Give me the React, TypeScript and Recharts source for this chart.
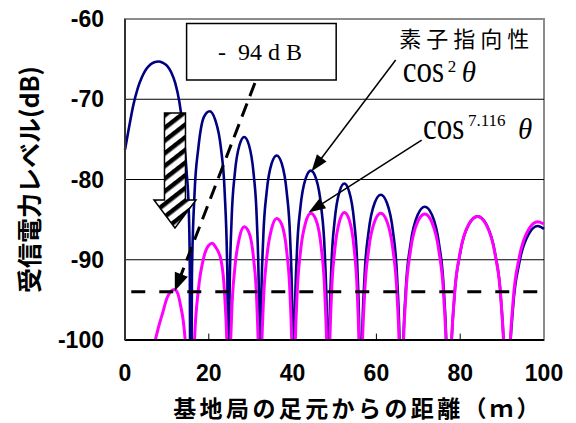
import React from 'react';
import { LineChart, Line, XAxis, YAxis, ReferenceLine, ReferenceArea, ReferenceDot } from 'recharts';

// cos^2 element directivity (navy)
const navyDistance = [
  0, 1, 2, 3, 4, 5, 6, 7, 8, 9, 10, 11, 12, 13, 14, 14.7, 15.2, 15.45, 15.7,
  15.97, 16.6, 17.5, 18.85, 20.2, 21.55, 22.9, 23.8, 24.43, 24.7,
  24.93, 25.45, 26.2, 27.33, 28.45, 29.58, 30.7, 31.45, 31.98, 32.2,
  32.44, 33.0, 33.8, 35.0, 36.2, 37.4, 38.6, 39.4, 39.96, 40.2,
  40.45, 41.03, 41.86, 43.11, 44.35, 45.6, 46.84, 47.67, 48.25, 48.5,
  48.73, 49.27, 50.04, 51.2, 52.35, 53.5, 54.66, 55.43, 55.97, 56.2,
  56.49, 57.17, 58.14, 59.6, 61.05, 62.5, 63.96, 64.93, 65.61, 65.9,
  66.24, 67.03, 68.16, 69.86, 71.55, 73.25, 74.94, 76.07, 76.86, 77.2,
  77.62, 78.59, 79.98, 82.07, 84.15, 86.24, 88.32, 89.71, 90.68, 91.1,
  91.55, 92.6, 94.1, 96.35, 98.5, 100,
];
const navyLevel = [
  -76.3, -73.4, -70.7, -68.7, -67.3, -66.3, -65.7, -65.4, -65.3, -65.45, -65.8, -66.6, -68.0, -70.4, -74.4, -79.0, -83.5, -90, -130,
  -92.0, -81.7, -76.1, -72.2, -71.5, -72.6, -76.1, -81.7, -92.0, -130,
  -95.2, -84.9, -79.3, -75.7, -74.7, -75.7, -79.3, -84.9, -95.2, -130,
  -97.5, -87.2, -81.6, -78.0, -77.0, -78.0, -81.6, -87.2, -97.5, -130,
  -99.4, -89.1, -83.5, -79.9, -78.9, -79.9, -83.5, -89.1, -99.4, -130,
  -101.0, -90.7, -85.1, -81.5, -80.5, -81.5, -85.1, -90.7, -101.0, -130,
  -102.4, -92.1, -86.5, -82.9, -81.9, -82.9, -86.5, -92.1, -102.4, -130,
  -103.9, -93.6, -88.0, -84.4, -83.4, -84.4, -88.0, -93.6, -103.9, -130,
  -105.1, -94.8, -89.2, -85.6, -84.6, -85.6, -89.2, -94.8, -105.1, -130,
  -106.3, -96.0, -90.4, -86.8, -85.8, -86.15,
];

// cos^7.116 element directivity (magenta)
const magentaDistance = [
  0, 3, 5, 6, 7, 8, 9, 10, 11, 11.8, 12.6, 13.3, 13.9, 14.3, 14.8, 15.3, 15.7,
  15.97, 16.6, 17.5, 18.85, 20.0, 20.8, 21.6, 22.9, 23.8, 24.43, 24.7,
  24.93, 25.45, 26.2, 27.33, 28.45, 29.58, 30.7, 31.45, 31.98, 32.2,
  32.44, 33.0, 33.8, 35.0, 36.2, 37.4, 38.6, 39.4, 39.96, 40.2,
  40.45, 41.03, 41.86, 43.11, 44.35, 45.6, 46.84, 47.67, 48.25, 48.5,
  48.73, 49.27, 50.04, 51.2, 52.35, 53.5, 54.66, 55.43, 55.97, 56.2,
  56.49, 57.17, 58.14, 59.6, 61.05, 62.5, 63.96, 64.93, 65.61, 65.9,
  66.24, 67.03, 68.16, 69.86, 71.55, 73.25, 74.94, 76.07, 76.86, 77.2,
  77.62, 78.59, 79.98, 82.07, 84.15, 86.24, 88.32, 89.71, 90.68, 91.1,
  91.55, 92.6, 94.1, 96.35, 98.5, 100,
];
const magentaLevel = [
  -125, -115, -108, -104, -100.6, -98.4, -96.6, -94.8, -93.9, -93.7, -94.2, -95.8, -97.6, -99.6, -103.5, -110, -130,
  -110.5, -99.9, -93.8, -89.6, -88.2, -87.95, -88.4, -90.0, -94.5, -103.0, -130,
  -107.3, -96.9, -91.1, -87.2, -85.9, -86.6, -89.9, -95.3, -105.5, -130,
  -106.1, -95.7, -89.9, -86.1, -84.85, -85.6, -89.0, -94.5, -104.7, -130,
  -105.2, -94.8, -89.1, -85.35, -84.2, -85.05, -88.5, -94.0, -104.2, -130,
  -104.8, -94.5, -88.9, -85.2, -84.1, -85.0, -88.5, -94.1, -104.4, -130,
  -104.7, -94.4, -88.8, -85.2, -84.2, -85.2, -88.8, -94.4, -104.7, -130,
  -104.7, -94.4, -88.8, -85.25, -84.3, -85.35, -89.0, -94.6, -104.9, -130,
  -105.0, -94.7, -89.1, -85.55, -84.6, -85.65, -89.3, -94.9, -105.2, -130,
  -105.5, -95.3, -89.7, -86.2, -85.25, -85.55,
];

const xTicks = [0, 20, 40, 60, 80, 100];
const yTicks = [-100, -90, -80, -70, -60];
const gridLevels = [-70, -80, -90];
const innerTicks = [20, 40, 60, 80];
const thresholdLevel = -94;
const thresholdFrom = 1.5;
const thresholdTo = 98.6;

const xTitle = '基地局の足元からの距離（ｍ）';
const yTitle = '受信電力レベル(dB)';
const boxText = '-  94 d B';
const elementTitle = '素子指向性';

const navyData = navyDistance.map((x, i) => ({ x, y: navyLevel[i] }));
const magentaData = magentaDistance.map((x, i) => ({ x, y: magentaLevel[i] }));

const SANS = "'Liberation Sans', Arial, sans-serif";
const SERIF = "'Liberation Serif', 'Times New Roman', serif";
const CJK = "'Noto Sans CJK JP', sans-serif";

const makeArrow = (width: number, headLen: number, headW: number, dash?: string) => (props: any) => {
  const { x1, y1, x2, y2 } = props;
  const dx = x2 - x1;
  const dy = y2 - y1;
  const len = Math.hypot(dx, dy) || 1;
  const ux = dx / len;
  const uy = dy / len;
  const bx = x2 - ux * headLen;
  const by = y2 - uy * headLen;
  const px = (-uy * headW) / 2;
  const py = (ux * headW) / 2;
  return (
    <g>
      <line x1={x1} y1={y1} x2={bx + ux * 2} y2={by + uy * 2} stroke="#000" strokeWidth={width} strokeDasharray={dash} />
      <polygon points={`${x2},${y2} ${bx + px},${by + py} ${bx - px},${by - py}`} fill="#000" />
    </g>
  );
};

const HatchedArrow = (props: any) => {
  const { cx, cy } = props;
  const pts = [
    [-10.5, -115], [10.5, -115], [10.5, -28], [21, -28], [0, 0], [-21, -28], [-10.5, -28],
  ].map(([a, b]) => `${cx + a},${cy + b}`).join(' ');
  return (
    <g>
      <defs>
        <pattern id="hatch" patternUnits="userSpaceOnUse" width="10" height="10" patternTransform="rotate(-38)">
          <rect width="10" height="10" fill="#fff" />
          <rect y="0" width="10" height="4.5" fill="#000" />
        </pattern>
      </defs>
      <polygon points={pts} fill="url(#hatch)" stroke="#000" strokeWidth={1.5} />
    </g>
  );
};

const TextAt = (content: (cx: number, cy: number) => React.ReactNode) => (props: any) => (
  <g>{content(props.cx, props.cy)}</g>
);

const CosLabel = (cx: number, cy: number, power: string, supGap: number, thetaGap: number, supRise: number) => (
  <g>
    <text transform={`translate(${cx} ${cy}) scale(1 1.2)`} x={0} y={0} fontFamily={SERIF} fontSize={31} fill="#000">cos</text>
    <text x={cx + 41 + supGap} y={cy - supRise} fontFamily={SERIF} fontSize={17} fill="#000">{power}</text>
    <text x={cx + 41 + supGap + thetaGap} y={cy} fontFamily={SERIF} fontSize={29} fontStyle="italic" fill="#000">θ</text>
  </g>
);

const YTitle = (props: any) => {
  const vb = props.viewBox || { x: 0, y: 19, width: 125, height: 321 };
  const cx = vb.x + 28;
  const cy = vb.y + vb.height / 2;
  return (
    <text x={cx} y={cy} transform={`rotate(-90 ${cx} ${cy})`} textAnchor="middle" dominantBaseline="central"
      fontFamily={CJK} fontWeight={700} fontSize={25} fill="#000">{yTitle}</text>
  );
};

const XTitle = (props: any) => {
  const vb = props.viewBox || { x: 125, y: 340, width: 419, height: 83 };
  return (
    <text x={vb.x + 233} y={vb.y + 67} textAnchor="middle" dominantBaseline="central"
      fontFamily={CJK} fontWeight={700} fontSize={23} letterSpacing={3.4} fill="#000">{xTitle}</text>
  );
};

export default function App() {
  return (
    <div style={{ position: 'absolute', left: 0, top: 0, width: 576, height: 423, background: '#fff' }}>
      <LineChart width={576} height={423} margin={{ top: 19, right: 32, bottom: 0, left: 0 }}>
        <XAxis type="number" dataKey="x" domain={[0, 100]} ticks={xTicks} interval={0}
          tickSize={0} tickMargin={25} axisLine={{ stroke: '#000', strokeWidth: 2 }}
          tick={{ fill: '#000', fontSize: 23, fontWeight: 700, fontFamily: SANS }}
          height={83} label={XTitle} />
        <YAxis type="number" dataKey="y" domain={[-100, -60]} ticks={yTicks} interval={0} allowDataOverflow
          tickSize={0} tickMargin={21} axisLine={{ stroke: '#333', strokeWidth: 2 }}
          tick={{ fill: '#000', fontSize: 23, fontWeight: 700, fontFamily: SANS }}
          width={125} label={YTitle} />
        <ReferenceArea x1={0} x2={100} y1={-100} y2={-60} fill="none" stroke="#8c8c8c" strokeWidth={2} ifOverflow="visible" />
        {gridLevels.map((g) => (
          <ReferenceLine key={g} y={g} stroke="#000" strokeWidth={1} />
        ))}
        {innerTicks.map((t) => (
          <ReferenceLine key={'t' + t} segment={[{ x: t, y: -100 }, { x: t, y: -99.2 }]} stroke="#000" strokeWidth={1} />
        ))}
        <Line data={navyData} dataKey="y" type="monotone" stroke="#000080" strokeWidth={2.6} dot={false} isAnimationActive={false} />
        <Line data={magentaData} dataKey="y" type="monotone" stroke="#ff00ff" strokeWidth={3} dot={false} isAnimationActive={false} />
        <ReferenceLine segment={[{ x: thresholdFrom, y: thresholdLevel }, { x: thresholdTo, y: thresholdLevel }]}
          stroke="#000" strokeWidth={3} strokeDasharray="14 14" />
        <ReferenceArea x1={14.7} x2={50.4} y1={-67.6} y2={-60.55} fill="#fff" fillOpacity={1} stroke="#000" strokeWidth={1.5} />
        <ReferenceDot x={32.2} y={-64.1} r={0} shape={TextAt((cx, cy) => (
          <text x={cx} y={cy} textAnchor="middle" dominantBaseline="central" fontFamily={SERIF} fontSize={24}
            fill="#000" style={{ whiteSpace: 'pre' }}>{boxText}</text>
        ))} />
        <ReferenceLine segment={[{ x: 31.0, y: -67.98 }, { x: 11.9, y: -93.9 }]} shape={makeArrow(3, 18, 14, '14 8')} />
        <ReferenceDot x={11.93} y={-86.04} r={0} shape={HatchedArrow} />
        <ReferenceLine segment={[{ x: 64.6, y: -65.1 }, { x: 44.5, y: -79.0 }]} shape={makeArrow(1.5, 17, 12)} />
        <ReferenceLine segment={[{ x: 70.8, y: -75.08 }, { x: 43.8, y: -84.1 }]} shape={makeArrow(1.5, 17, 12)} />
        <ReferenceDot x={81.1} y={-62.2} r={0} shape={TextAt((cx, cy) => (
          <text x={cx + 2} y={cy} textAnchor="middle" dominantBaseline="central" fontFamily={CJK} fontSize={22}
            letterSpacing={5} fill="#000">{elementTitle}</text>
        ))} />
        <ReferenceDot x={66.3} y={-67.85} r={0} shape={TextAt((cx, cy) => CosLabel(cx, cy, '2', 4, 14, 10))} />
        <ReferenceDot x={71.1} y={-74.95} r={0} shape={TextAt((cx, cy) => CosLabel(cx, cy, '7.116', 4, 50, 13))} />
      </LineChart>
    </div>
  );
}
